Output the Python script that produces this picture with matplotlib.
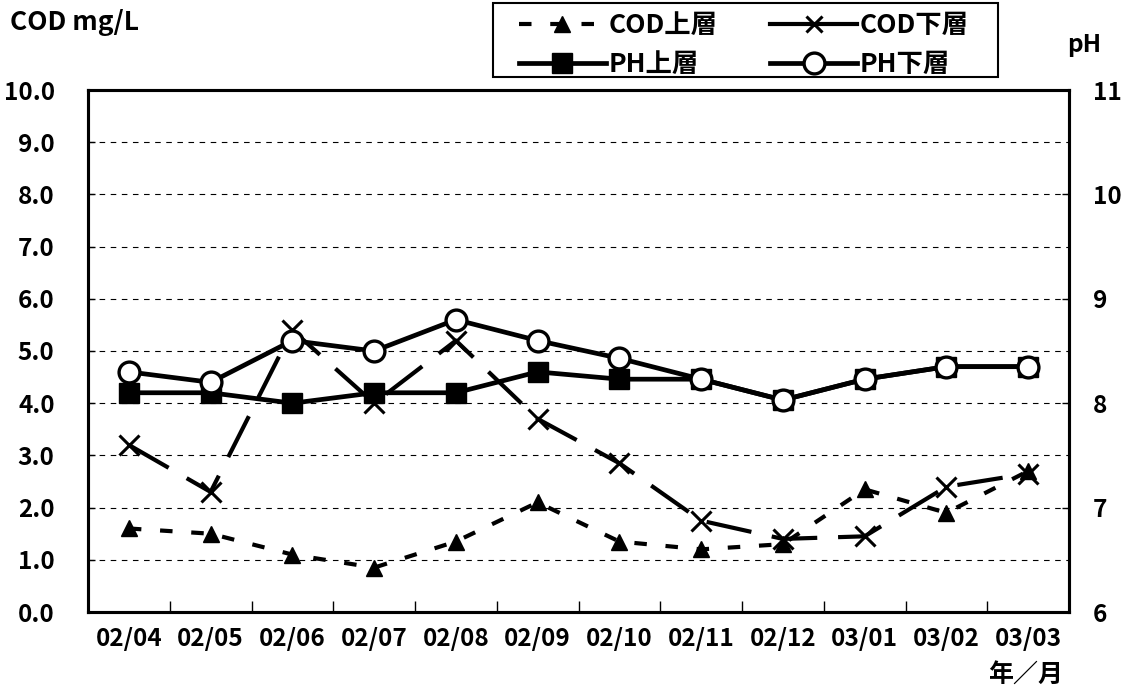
import matplotlib
matplotlib.use('Agg')
import matplotlib.pyplot as plt
from matplotlib.lines import Line2D
from matplotlib.patches import Rectangle
from matplotlib.ticker import FixedLocator, NullFormatter

plt.rcParams['font.family'] = ['Noto Sans CJK JP', 'DejaVu Sans']
plt.rcParams['font.weight'] = 'bold'

# data
months = ['02/04', '02/05', '02/06', '02/07', '02/08', '02/09',
          '02/10', '02/11', '02/12', '03/01', '03/02', '03/03']
cod_upper = [1.6, 1.5, 1.1, 0.85, 1.35, 2.1, 1.35, 1.2, 1.3, 2.35, 1.9, 2.7]
cod_lower = [3.2, 2.3, 5.4, 4.0, 5.2, 3.7, 2.85, 1.75, 1.4, 1.45, 2.4, 2.65]
ph_upper = [8.1, 8.1, 8.0, 8.1, 8.1, 8.3, 8.23, 8.23, 8.03, 8.23, 8.35, 8.35]
ph_lower = [8.3, 8.2, 8.6, 8.5, 8.8, 8.6, 8.43, 8.23, 8.03, 8.23, 8.35, 8.35]

cod_ticks = [0, 1, 2, 3, 4, 5, 6, 7, 8, 9, 10]
ph_ticks = [6, 7, 8, 9, 10, 11]

W, H = 1128, 692
fig = plt.figure(figsize=(W / 100, H / 100), dpi=100)
ax = fig.add_axes([88 / W, 1 - 612 / H, 981 / W, 522 / H])
ax2 = ax.twinx()

# COD on the left axis
l1, = ax.plot(months, cod_upper, color='black', lw=3, linestyle=(0, (3, 4.5)),
              marker='^', markersize=11, markerfacecolor='black', markeredgecolor='black',
              label='COD上層')
l2, = ax.plot(months, cod_lower, color='black', lw=3, linestyle=(0, (11, 5)),
              marker='x', markersize=14, markeredgewidth=2.2, markeredgecolor='black',
              label='COD下層')

# pH on the right axis
l3, = ax2.plot(months, ph_upper, color='black', lw=3.4, marker='s', markersize=15,
               markerfacecolor='black', markeredgecolor='black', label='PH上層')
l4, = ax2.plot(months, ph_lower, color='black', lw=3.4, marker='o', markersize=15,
               markerfacecolor='white', markeredgecolor='black', markeredgewidth=2.4,
               label='PH下層')

ax.set_xlim(-0.5, len(months) - 0.5)
ax.set_ylim(0, 10)
ax2.set_ylim(6, 11)

ax.set_yticks(cod_ticks)
ax.set_yticklabels([f'{v:.1f}' for v in cod_ticks])
ax2.set_yticks(ph_ticks)
ax2.set_yticklabels([str(v) for v in ph_ticks])

# dashed grid lines
for v in cod_ticks[1:-1]:
    ax.axhline(v, color='black', lw=0.8, linestyle=(0, (5, 5)), zorder=0)

# tick marks sit between categories, labels at the centres
ax.xaxis.set_minor_locator(FixedLocator([i + 0.5 for i in range(len(months) - 1)]))
ax.xaxis.set_minor_formatter(NullFormatter())
ax.tick_params(axis='x', which='major', length=0, pad=11, labelsize=17.5)
ax.tick_params(axis='x', which='minor', direction='in', length=8, width=1)
ax.tick_params(axis='y', direction='in', length=5, width=1, pad=24, labelsize=17.5)
ax2.tick_params(axis='y', direction='in', length=5, width=1, pad=17, labelsize=17.5)

for a in (ax, ax2):
    for s in a.spines.values():
        s.set_linewidth(2.2)

fig.text(10 / W, 1 - 22 / H, 'COD mg/L', fontsize=19, va='center', ha='left')
fig.text(1084 / W, 1 - 45 / H, 'pH', fontsize=17.5, va='center', ha='center')
fig.text(1026 / W, 1 - 676 / H, '年／月', fontsize=18, va='center', ha='center')

# legend: the COD下層 key is drawn as a solid line in the original
l2_key = Line2D([], [], color='black', lw=3, marker='x', markersize=12,
                markeredgewidth=2.2, markeredgecolor='black')

# legend box drawn separately so its padding can match the original
fig.patches.append(Rectangle((493 / W, 1 - 77 / H), 505 / W, 74 / H,
                             transform=fig.transFigure, facecolor='white',
                             edgecolor='black', linewidth=1.5, zorder=0))
leg = fig.legend([l1, l3, l2_key, l4], ['COD上層', 'PH上層', 'COD下層', 'PH下層'],
                 ncol=2, loc='center', bbox_to_anchor=(744 / W, 1 - 45 / H),
                 fontsize=19, frameon=False, handlelength=3.3,
                 handletextpad=0.1, columnspacing=2.0, labelspacing=0.45,
                 borderpad=0, borderaxespad=0)

fig.savefig('out.png', dpi=100)
